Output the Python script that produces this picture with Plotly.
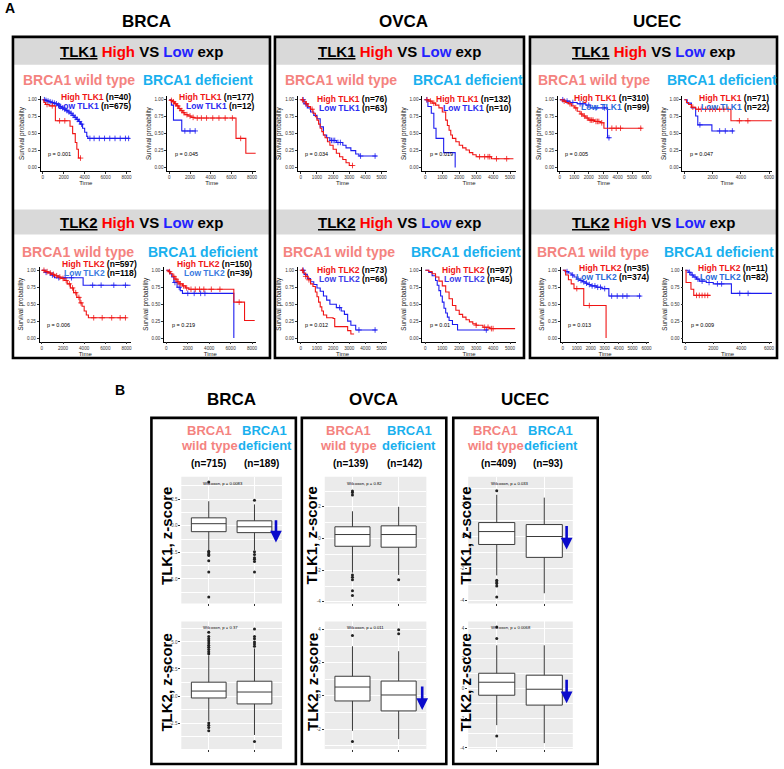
import numpy as np
import plotly.graph_objects as go

W, H = 784, 769
FONT = "Liberation Sans"
RED = "#f01414"
BLUE = "#1c1cf0"
SALMON = "#f4837f"
SKY = "#19b0ee"

# ---------- panel A: Kaplan-Meier curves (time, survival after step, censor times) ----------
BRCA_T1_WT_HI_T = [0, 100, 250, 600, 1200, 2600, 2850, 3100, 3250, 3400, 3650]
BRCA_T1_WT_HI_S = [1.0, 0.96, 0.93, 0.91, 0.69, 0.61, 0.50, 0.37, 0.27, 0.14, 0.14]
BRCA_T1_WT_HI_C = [400, 900, 1600, 2100, 3600]
BRCA_T1_WT_LO_T = [0, 200, 400, 600, 800, 1000, 1200, 1400, 1600, 1800, 2000, 2200, 2400, 2600,
                   2800, 3000, 3200, 3400, 3600, 3800, 4000, 4200, 4300, 8300]
BRCA_T1_WT_LO_S = [1.0, 0.99, 0.98, 0.97, 0.96, 0.95, 0.94, 0.92, 0.90, 0.88, 0.86, 0.84, 0.82, 0.80,
                   0.77, 0.74, 0.71, 0.68, 0.64, 0.58, 0.52, 0.46, 0.43, 0.43]
BRCA_T1_WT_LO_C = [150, 300, 500, 700, 900, 1100, 1300, 1500, 1700, 1900, 2100, 2300, 2500, 2700,
                   2900, 3100, 3300, 3500, 3700, 4500, 4900, 5400, 5900, 6400, 6900, 7400, 7900, 8200]

BRCA_T1_DEF_HI_T = [0, 100, 300, 500, 700, 900, 1100, 1300, 1500, 1800, 2100, 2400, 6450, 7400, 8350]
BRCA_T1_DEF_HI_S = [1.0, 0.99, 0.97, 0.94, 0.91, 0.87, 0.84, 0.81, 0.78, 0.76, 0.74, 0.73, 0.43, 0.21, 0.21]
BRCA_T1_DEF_HI_C = [200, 400, 600, 800, 1000, 1200, 1400, 1700, 2000, 2300, 2700, 3100, 3600, 4200, 4800, 5400, 6100, 6900]
BRCA_T1_DEF_LO_T = [0, 200, 400, 1200, 2550]
BRCA_T1_DEF_LO_S = [1.0, 0.92, 0.70, 0.54, 0.54]
BRCA_T1_DEF_LO_C = [1500, 2000, 2500]

BRCA_T2_WT_HI_T = [0, 300, 600, 900, 1200, 1500, 1800, 2100, 2400, 2700, 3000, 3300, 3600, 3800, 4000, 4200, 4400, 8000]
BRCA_T2_WT_HI_S = [1.0, 0.98, 0.96, 0.94, 0.92, 0.90, 0.88, 0.85, 0.80, 0.74, 0.67, 0.60, 0.52, 0.47, 0.40, 0.34, 0.30, 0.30]
BRCA_T2_WT_HI_C = [200, 500, 800, 1100, 1400, 1700, 2000, 2300, 2600, 2900, 3200, 3500, 3700, 4900, 5700, 6600, 7400, 7900]
BRCA_T2_WT_LO_T = [0, 300, 800, 1200, 3900, 8400]
BRCA_T2_WT_LO_S = [1.0, 0.97, 0.93, 0.89, 0.78, 0.78]
BRCA_T2_WT_LO_C = [400, 1000, 1600, 2200, 2800, 4800, 5600, 6800, 7900]

BRCA_T2_DEF_HI_T = [0, 200, 400, 600, 800, 1000, 1200, 1500, 1800, 2100, 6300, 7300, 8250]
BRCA_T2_DEF_HI_S = [1.0, 0.98, 0.95, 0.91, 0.87, 0.83, 0.80, 0.77, 0.74, 0.72, 0.53, 0.26, 0.26]
BRCA_T2_DEF_HI_C = [300, 700, 900, 1100, 1300, 1600, 1900, 2300, 2700, 3100, 3500, 4200, 5000, 6800]
BRCA_T2_DEF_LO_T = [0, 300, 500, 700, 1000, 1300, 1500, 6300]
BRCA_T2_DEF_LO_S = [1.0, 0.95, 0.90, 0.82, 0.75, 0.70, 0.66, 0.0]
BRCA_T2_DEF_LO_C = [800, 1200, 2000, 2600, 3200, 3600]

OVCA_T1_WT_HI_T = [0, 150, 300, 450, 600, 750, 900, 1000, 1100, 1200, 1300, 1400, 1500, 1650, 1800,
                   2000, 2200, 2400, 2600, 2800, 3000, 3250]
OVCA_T1_WT_HI_S = [1.0, 0.97, 0.94, 0.90, 0.86, 0.80, 0.75, 0.70, 0.64, 0.58, 0.53, 0.48, 0.44, 0.38, 0.33,
                   0.27, 0.21, 0.16, 0.12, 0.07, 0.03, 0.03]
OVCA_T1_WT_HI_C = [100, 350, 700, 3200]
OVCA_T1_WT_LO_T = [0, 200, 400, 600, 800, 1000, 1200, 1400, 1600, 1800, 2200, 2600, 2800, 3100, 3400, 3600, 4700]
OVCA_T1_WT_LO_S = [1.0, 0.94, 0.88, 0.82, 0.77, 0.72, 0.60, 0.48, 0.44, 0.40, 0.37, 0.33, 0.29, 0.25, 0.20, 0.17, 0.17]
OVCA_T1_WT_LO_C = [150, 300, 1900, 2000, 2100, 2300, 2450, 3700, 4600]

OVCA_T1_DEF_HI_T = [0, 200, 400, 600, 800, 1000, 1200, 1300, 1400, 1500, 1600, 1800, 2000, 2200, 2400,
                    2600, 2800, 3000, 3900, 5200]
OVCA_T1_DEF_HI_S = [1.0, 0.98, 0.95, 0.92, 0.88, 0.82, 0.70, 0.62, 0.55, 0.48, 0.43, 0.38, 0.33, 0.29, 0.26,
                    0.22, 0.19, 0.16, 0.13, 0.13]
OVCA_T1_DEF_HI_C = [100, 300, 500, 3200, 3500, 3700, 3800, 4200, 4800]
OVCA_T1_DEF_LO_T = [0, 150, 350, 500, 630, 1080, 1760]
OVCA_T1_DEF_LO_S = [1.0, 0.90, 0.80, 0.58, 0.43, 0.22, 0.0]
OVCA_T1_DEF_LO_C = [80]

OVCA_T2_WT_HI_T = [0, 150, 300, 450, 600, 750, 900, 1000, 1100, 1200, 1300, 1400, 1600, 2000, 2100, 2900, 3100, 3300]
OVCA_T2_WT_HI_S = [1.0, 0.96, 0.91, 0.86, 0.80, 0.76, 0.68, 0.61, 0.53, 0.46, 0.40, 0.34, 0.30, 0.29, 0.17, 0.11, 0.06, 0.06]
OVCA_T2_WT_HI_C = [100, 300, 500]
OVCA_T2_WT_LO_T = [0, 200, 400, 600, 800, 1000, 1200, 1400, 1600, 1800, 2200, 2500, 2700, 2900, 3100, 3400, 4700]
OVCA_T2_WT_LO_S = [1.0, 0.94, 0.88, 0.83, 0.79, 0.74, 0.69, 0.62, 0.56, 0.50, 0.45, 0.40, 0.35, 0.25, 0.19, 0.12, 0.12]
OVCA_T2_WT_LO_C = [150, 2400, 3600, 4600]

OVCA_T2_DEF_HI_T = [0, 200, 400, 600, 800, 1000, 1200, 1400, 1600, 1800, 2000, 2200, 2400, 2600, 2800, 3000, 3400, 3800, 5300]
OVCA_T2_DEF_HI_S = [1.0, 0.98, 0.95, 0.90, 0.84, 0.77, 0.68, 0.58, 0.48, 0.41, 0.35, 0.31, 0.27, 0.24, 0.21, 0.19, 0.16, 0.14, 0.14]
OVCA_T2_DEF_HI_C = [3000, 3500, 3700, 3900, 4000]
OVCA_T2_DEF_LO_T = [0, 200, 400, 600, 700, 800, 900, 1000, 1100, 1200, 1300, 1400, 1600, 1900, 3700]
OVCA_T2_DEF_LO_S = [1.0, 0.97, 0.92, 0.85, 0.78, 0.70, 0.62, 0.53, 0.44, 0.37, 0.31, 0.26, 0.20, 0.12, 0.12]
OVCA_T2_DEF_LO_C = [3600]

UCEC_T1_WT_HI_T = [0, 200, 400, 600, 800, 1000, 1200, 1400, 1600, 1800, 2000, 2400, 2800, 3050, 5700]
UCEC_T1_WT_HI_S = [1.0, 0.98, 0.96, 0.94, 0.91, 0.88, 0.83, 0.79, 0.76, 0.73, 0.70, 0.68, 0.66, 0.58, 0.58]
UCEC_T1_WT_HI_C = [300, 700, 1100, 1500, 1700, 1900, 2100, 2200, 2300, 2500, 2600, 2700, 2900, 3600, 3900, 4200, 5600]
UCEC_T1_WT_LO_T = [0, 300, 700, 1200, 1800, 2100, 3300, 3500]
UCEC_T1_WT_LO_S = [1.0, 0.98, 0.96, 0.94, 0.92, 0.88, 0.44, 0.44]
UCEC_T1_WT_LO_C = [200, 500, 900, 1400, 1600, 2000, 2500, 3100, 3400]

UCEC_T1_DEF_HI_T = [0, 150, 300, 500, 800, 3300, 6200]
UCEC_T1_DEF_HI_S = [1.0, 0.96, 0.93, 0.89, 0.86, 0.69, 0.69]
UCEC_T1_DEF_HI_C = [600, 1000, 1200, 1500, 1800, 2000, 2200, 2500, 2800, 3100, 3900, 4500]
UCEC_T1_DEF_LO_T = [0, 200, 500, 800, 950, 1950, 3500]
UCEC_T1_DEF_LO_S = [1.0, 0.95, 0.88, 0.76, 0.63, 0.54, 0.54]
UCEC_T1_DEF_LO_C = [1100, 2500, 2900, 3400]

UCEC_T2_WT_HI_T = [0, 200, 400, 600, 800, 1500, 3100]
UCEC_T2_WT_HI_S = [1.0, 0.93, 0.86, 0.80, 0.73, 0.48, 0.0]
UCEC_T2_WT_HI_C = [1000, 1900]
UCEC_T2_WT_LO_T = [0, 200, 400, 600, 800, 1000, 1200, 1400, 1600, 1800, 2000, 2400, 2800, 3300, 5600]
UCEC_T2_WT_LO_S = [1.0, 0.98, 0.96, 0.93, 0.90, 0.87, 0.85, 0.83, 0.81, 0.79, 0.77, 0.75, 0.73, 0.62, 0.62]
UCEC_T2_WT_LO_C = [300, 700, 1100, 1300, 1500, 1700, 1900, 2100, 2300, 2500, 2700, 3000, 3500, 3900, 4300, 4600, 5500]

UCEC_T2_DEF_HI_T = [0, 50, 400, 600, 1800]
UCEC_T2_DEF_HI_S = [1.0, 0.82, 0.72, 0.63, 0.63]
UCEC_T2_DEF_HI_C = [800, 1000, 1200, 1400, 1600]
UCEC_T2_DEF_LO_T = [0, 200, 400, 600, 800, 1000, 1500, 2000, 3300, 6300]
UCEC_T2_DEF_LO_S = [1.0, 0.97, 0.93, 0.90, 0.87, 0.84, 0.82, 0.80, 0.66, 0.66]
UCEC_T2_DEF_LO_C = [300, 500, 700, 900, 1200, 1700, 2300, 2600, 3900, 4500]

KM_N_HIGH = [40, 177, 597, 150, 76, 132, 73, 97, 310, 71, 35, 11]
KM_N_LOW = [675, 12, 118, 39, 63, 10, 66, 45, 99, 22, 374, 82]
KM_P = ["0.001", "0.045", "0.006", "0.219", "0.034", "0.019", "0.012", "0.01", "0.005", "0.047", "0.013", "0.009"]
KM_GENE = ["TLK1", "TLK1", "TLK2", "TLK2"] * 3

# ---------- panel B: box statistics (q1, median, q3, lower whisker, upper whisker) ----------
BOX_TITLES = ["TLK1, z-score", "TLK2, z-score"] * 3
BOX_P = ["0.0083", "0.37", "0.82", "0.011", "0.033", "0.0068"]
BOX_WT_STATS = [[-0.56, 0.19, 0.74, -2.3, 2.3], [-0.18, 0.46, 1.28, -2.3, 3.75],
                [-0.49, 0.25, 0.74, -2.15, 1.72], [-0.30, 0.54, 1.19, -2.1, 3.0],
                [-0.50, 0.31, 0.875, -2.44, 2.62], [-0.47, 0.40, 1.0, -2.47, 2.87]]
BOX_DEF_STATS = [[-0.65, -0.10, 0.46, -2.3, 2.0], [-0.73, 0.37, 1.37, -3.6, 4.4],
                 [-0.55, 0.25, 0.80, -2.3, 2.0], [-0.90, 0.06, 0.90, -2.6, 2.7],
                 [-1.31, 0.0, 0.75, -3.56, 2.44], [-1.13, -0.07, 0.87, -3.67, 2.87]]
BOX_WT_OUT = [[4.1, -2.4, -2.55, -2.7, -2.8, -3.3, -4.35, -6.7],
              [3.9, 4.1, 4.3, 4.5, 4.7, 4.9, 5.1, 5.3, 5.5, 5.9, -2.5, -2.7, -2.9, -3.2],
              [2.75, 2.9, 3.0, -2.3, -2.45, -2.6, -3.3, -3.6],
              [3.65, -2.75],
              [2.87, -2.75, -2.85, -2.95, -3.1, -3.8],
              [3.33, 4.1, -3.2]]
BOX_DEF_OUT = [[2.4, -2.45, -2.7, -3.0, -3.15, -3.35, -4.35],
               [4.6, 4.8, 5.0, 5.3, 5.5, 6.2, -4.2],
               [-2.6],
               [3.75, 4.0],
               [],
               []]
BOX_N_WT = [715, 139, 409]
BOX_N_DEF = [189, 142, 93]
CANCERS = ["BRCA", "OVCA", "UCEC"]


def pxx(p):
    return p / W


def pxy(p):
    return 1 - p / H


def axn(k):
    s = "" if k == 1 else str(k)
    return "x" + s, "y" + s, "xaxis" + s, "yaxis" + s


def step_at(t, s, c):
    idx = np.searchsorted(np.array(t), np.array(c), side="right") - 1
    return list(np.array(s)[idx])


km_curves = [
    (BRCA_T1_WT_HI_T, BRCA_T1_WT_HI_S, BRCA_T1_WT_HI_C, BRCA_T1_WT_LO_T, BRCA_T1_WT_LO_S, BRCA_T1_WT_LO_C),
    (BRCA_T1_DEF_HI_T, BRCA_T1_DEF_HI_S, BRCA_T1_DEF_HI_C, BRCA_T1_DEF_LO_T, BRCA_T1_DEF_LO_S, BRCA_T1_DEF_LO_C),
    (BRCA_T2_WT_HI_T, BRCA_T2_WT_HI_S, BRCA_T2_WT_HI_C, BRCA_T2_WT_LO_T, BRCA_T2_WT_LO_S, BRCA_T2_WT_LO_C),
    (BRCA_T2_DEF_HI_T, BRCA_T2_DEF_HI_S, BRCA_T2_DEF_HI_C, BRCA_T2_DEF_LO_T, BRCA_T2_DEF_LO_S, BRCA_T2_DEF_LO_C),
    (OVCA_T1_WT_HI_T, OVCA_T1_WT_HI_S, OVCA_T1_WT_HI_C, OVCA_T1_WT_LO_T, OVCA_T1_WT_LO_S, OVCA_T1_WT_LO_C),
    (OVCA_T1_DEF_HI_T, OVCA_T1_DEF_HI_S, OVCA_T1_DEF_HI_C, OVCA_T1_DEF_LO_T, OVCA_T1_DEF_LO_S, OVCA_T1_DEF_LO_C),
    (OVCA_T2_WT_HI_T, OVCA_T2_WT_HI_S, OVCA_T2_WT_HI_C, OVCA_T2_WT_LO_T, OVCA_T2_WT_LO_S, OVCA_T2_WT_LO_C),
    (OVCA_T2_DEF_HI_T, OVCA_T2_DEF_HI_S, OVCA_T2_DEF_HI_C, OVCA_T2_DEF_LO_T, OVCA_T2_DEF_LO_S, OVCA_T2_DEF_LO_C),
    (UCEC_T1_WT_HI_T, UCEC_T1_WT_HI_S, UCEC_T1_WT_HI_C, UCEC_T1_WT_LO_T, UCEC_T1_WT_LO_S, UCEC_T1_WT_LO_C),
    (UCEC_T1_DEF_HI_T, UCEC_T1_DEF_HI_S, UCEC_T1_DEF_HI_C, UCEC_T1_DEF_LO_T, UCEC_T1_DEF_LO_S, UCEC_T1_DEF_LO_C),
    (UCEC_T2_WT_HI_T, UCEC_T2_WT_HI_S, UCEC_T2_WT_HI_C, UCEC_T2_WT_LO_T, UCEC_T2_WT_LO_S, UCEC_T2_WT_LO_C),
    (UCEC_T2_DEF_HI_T, UCEC_T2_DEF_HI_S, UCEC_T2_DEF_HI_C, UCEC_T2_DEF_LO_T, UCEC_T2_DEF_LO_S, UCEC_T2_DEF_LO_C),
]

# layout of each KM plot: pixel of tick 0, pixel of last tick, last tick, axis range, tick step, row, legend anchor
km_layout = [
    (43, 127, 8000, [-200, 8400], 2000, 1, 134, 97),
    (170, 253, 8000, [-200, 8400], 2000, 1, 257, 97),
    (42, 127, 8000, [-200, 8400], 2000, 2, 140, 265),
    (167, 253, 8000, [-200, 8400], 2000, 2, 255, 265),
    (302, 383, 5000, [-180, 5350], 1000, 1, 390, 99),
    (427, 512, 5000, [-180, 5350], 1000, 1, 515, 99),
    (302, 383, 5000, [-180, 5350], 1000, 2, 390, 271),
    (427, 512, 5000, [-180, 5350], 1000, 2, 516, 271),
    (562, 649, 6000, [-140, 6200], 1000, 1, 653, 98),
    (687, 772, 6000, [-140, 6200], 2000, 1, 774, 98),
    (565, 649, 6000, [-140, 6200], 1000, 2, 653, 269),
    (688, 772, 6000, [-140, 6200], 2000, 2, 773, 269),
]
low_label_col = ["#2a2af0", "#2a2af0", "#3a7ae0", "#3a7ae0", "#2a2af0", "#2a2af0",
                 "#3b3be8", "#3b3be8", "#2a6ad8", "#2a6ad8", "#2a6ad8", "#2a6ad8"]
ROW_Y = {1: (100, 168), 2: (271, 339)}

# box panels: pixel domain x, row, y range, tick values, minor step
box_layout = [
    (182, 283, 1, [-7.3, 4.6], [-5, -2.5, 0, 2.5], ["-5.0", "-2.5", "0.0", "2.5"], 1.25),
    (182, 283, 2, [-4.9, 6.9], [-2.5, 0, 2.5, 5], ["-2.5", "0.0", "2.5", "5.0"], 1.25),
    (326, 428, 1, [-4.1, 3.9], [-4, -2, 0, 2], ["-4", "-2", "0", "2"], 1),
    (326, 428, 2, [-3.2, 4.5], [-2, 0, 2, 4], ["-2", "0", "2", "4"], 1),
    (470, 575, 1, [-4.2, 3.75], [-4, -2, 0, 2], ["-4", "-2", "0", "2"], 1),
    (470, 575, 2, [-4.07, 4.47], [-4, -2, 0, 2, 4], ["-4", "-2", "0", "2", "4"], 1),
]
BOX_ROW_Y = {1: (478, 605), 2: (623, 751)}
# arrow: x, tail y, head y
arrows = {0: (2.47, 0.65, -1.57), 3: (2.51, 0.66, -0.84), 4: (2.47, 0.75, -0.81), 5: (2.47, 0.67, -1.0)}

fig = go.Figure()
lay = {}
shapes = []
anns = []


def ann(text, x, y, size, color="black", xanchor="center", yanchor="middle", **kw):
    anns.append(dict(text=text, x=pxx(x), y=pxy(y), xref="paper", yref="paper", showarrow=False,
                     font=dict(size=size, color=color, family=FONT), xanchor=xanchor, yanchor=yanchor, **kw))


tick_common = dict(ticks="outside", ticklen=2, tickwidth=0.6, tickcolor="#333", zeroline=False)

for i, (curves, spec) in enumerate(zip(km_curves, km_layout)):
    xa, ya, xk, yk = axn(i + 1)
    hi_t, hi_s, hi_c, lo_t, lo_s, lo_c = curves
    p0, pm, vm, xr, step, row, lx, ly = spec
    y1p, y0p = ROW_Y[row]
    scale = (pm - p0) / vm
    xd = [pxx(p0 + xr[0] * scale), pxx(p0 + xr[1] * scale)]
    yr = [-0.05, 1.05]
    yd = [pxy(y0p + yr[0] * (y1p - y0p)), pxy(y0p + yr[1] * (y1p - y0p))]
    for t, s, c, col in [(lo_t, lo_s, lo_c, BLUE), (hi_t, hi_s, hi_c, RED)]:
        fig.add_trace(go.Scatter(x=t, y=s, mode="lines", line=dict(shape="hv", color=col, width=1.1),
                                 xaxis=xa, yaxis=ya, hoverinfo="skip"))
        fig.add_trace(go.Scatter(x=c, y=step_at(t, s, c), mode="markers", xaxis=xa, yaxis=ya,
                                 marker=dict(symbol="cross-thin", size=4, line=dict(width=0.8, color=col)),
                                 hoverinfo="skip"))
    ticks = list(range(0, vm + 1, step))
    lay[xk] = dict(domain=xd, range=xr, anchor=ya, tickvals=ticks, ticktext=[str(v) for v in ticks],
                   tickfont=dict(size=4.6, color="#333", family=FONT), showline=True, linecolor="black",
                   linewidth=0.8, showgrid=False,
                   title=dict(text="Time", font=dict(size=6, family=FONT, color="#222"), standoff=1),
                   **tick_common)
    lay[yk] = dict(domain=yd, range=yr, anchor=xa, tickvals=[0, 0.25, 0.5, 0.75, 1],
                   ticktext=["0.00", "0.25", "0.50", "0.75", "1.00"],
                   tickfont=dict(size=4.6, color="#333", family=FONT), showline=True, linecolor="black",
                   linewidth=0.8, showgrid=False,
                   title=dict(text="Survival probability", font=dict(size=6.3, family=FONT, color="#222"),
                              standoff=2),
                   **tick_common)
    g = KM_GENE[i]
    ann(f"<b><span style='color:{RED}'>High {g}</span> (n={KM_N_HIGH[i]})</b>", lx, ly, 8.5, xanchor="right")
    ann(f"<b><span style='color:{low_label_col[i]}'>Low {g}</span> (n={KM_N_LOW[i]})</b>", lx, ly + 9, 8.5,
        xanchor="right")
    anns.append(dict(text=f"p = {KM_P[i]}", x=0.06, y=0.2, xref=f"{xa} domain", yref=ya, showarrow=False,
                     xanchor="left", font=dict(size=5.5, color="black", family=FONT)))

for j, spec in enumerate(box_layout):
    xa, ya, xk, yk = axn(13 + j)
    x0, x1, row, yr, tv, tt, minor = spec
    yt, yb = BOX_ROW_Y[row]
    for pos, st, out in [(1, BOX_WT_STATS[j], BOX_WT_OUT[j]), (2, BOX_DEF_STATS[j], BOX_DEF_OUT[j])]:
        fig.add_trace(go.Box(x=[pos], q1=[st[0]], median=[st[1]], q3=[st[2]], lowerfence=[st[3]],
                             upperfence=[st[4]], width=0.76, whiskerwidth=0, fillcolor="white",
                             line=dict(color="#3a3a3a", width=1), boxpoints=False, xaxis=xa, yaxis=ya,
                             hoverinfo="skip"))
        if out:
            fig.add_trace(go.Scatter(x=[pos] * len(out), y=out, mode="markers", xaxis=xa, yaxis=ya,
                                     marker=dict(color="#222", size=3), hoverinfo="skip"))
    lay[xk] = dict(domain=[pxx(x0), pxx(x1)], range=[0.4, 2.6], anchor=ya, tickvals=[1, 2],
                   ticktext=["", ""], showgrid=True, gridcolor="white", gridwidth=1, showline=False,
                   **tick_common)
    lay[yk] = dict(domain=[pxy(yb), pxy(yt)], range=yr, anchor=xa, tickvals=tv, ticktext=tt,
                   tickfont=dict(size=4.5, color="#4d4d4d", family=FONT), showgrid=True,
                   gridcolor="white", gridwidth=0.9, showline=False,
                   minor=dict(dtick=minor, tick0=0, showgrid=True, gridcolor="white", gridwidth=0.5, ticks=""),
                   **tick_common)
    shapes.append(dict(type="rect", xref=f"{xa} domain", yref=f"{ya} domain", x0=0, x1=1, y0=0, y1=1,
                       fillcolor="#ebebeb", line=dict(width=0), layer="below"))
    anns.append(dict(text=f"Wilcoxon, p = {BOX_P[j]}", x=0.2, y=0.985, xref=f"{xa} domain",
                     yref=f"{ya} domain", showarrow=False, xanchor="left", yanchor="top",
                     font=dict(size=4.2, color="black", family=FONT)))
    if j in arrows:
        arx, ytail, yhead = arrows[j]
        anns.append(dict(text="", x=arx, y=yhead, ax=arx, ay=ytail, xref=xa, yref=ya,
                         axref=xa, ayref=ya, showarrow=True, arrowhead=2, arrowsize=0.9, arrowwidth=2.6,
                         arrowcolor="#0a0acc"))

# --- panel A frames and labels
a_boxes = [(13, 271), (276, 526), (532, 780)]
a_titles_x = [147, 405, 660]
wt_x = [[79, 78], [342, 340], [596, 595]]
def_x = [[199, 204], [470, 468], [725, 722]]
for c, (bx0, bx1) in enumerate(a_boxes):
    for hy0, hy1 in [(38, 65), (210, 235)]:
        shapes.append(dict(type="rect", xref="paper", yref="paper", x0=pxx(bx0), x1=pxx(bx1), y0=pxy(hy1),
                           y1=pxy(hy0), fillcolor="#d9d9d9", line=dict(width=0), layer="below"))
    shapes.append(dict(type="rect", xref="paper", yref="paper", x0=pxx(bx0), x1=pxx(bx1), y0=pxy(359),
                       y1=pxy(37), line=dict(color="black", width=2.6)))
    ann(f"<b>{CANCERS[c]}</b>", a_titles_x[c], 22, 17)
    cx = (bx0 + bx1) / 2
    for r, (gene, hy) in enumerate([("TLK1", 52), ("TLK2", 223)]):
        ann(f"<b><span style='text-decoration:underline'>{gene}</span> <span style='color:#ff0000'>High</span>"
            f" VS <span style='color:#2222ff'>Low</span> exp</b>", cx, hy, 15)
        sy = 80 if r == 0 else 253
        ann("<b>BRCA1 wild type</b>", wt_x[c][r], sy, 14, color=SALMON)
        ann("<b>BRCA1 deficient</b>", def_x[c][r], sy, 14, color=SKY)
ann("<b>A</b>", 3, 8, 14, xanchor="left")

# --- panel B frames and labels
b_boxes = [(152, 297), (303, 448), (455, 600)]
b_title_x = [232, 375, 527]
b_wt_x = [210, 350, 497]
b_def_x = [266, 411, 553]
b_nwt_x = [209, 352, 500]
b_ndef_x = [263, 406, 550]
b_ytitle_x = [167, 313, 467]
for c, (bx0, bx1) in enumerate(b_boxes):
    shapes.append(dict(type="rect", xref="paper", yref="paper", x0=pxx(bx0), x1=pxx(bx1), y0=pxy(766),
                       y1=pxy(419), line=dict(color="black", width=2.6)))
    ann(f"<b>{CANCERS[c]}</b>", b_title_x[c], 401, 17)
    ann("<b>BRCA1</b>", b_wt_x[c], 432, 13, color=SALMON)
    ann("<b>wild type</b>", b_wt_x[c], 447, 13, color=SALMON)
    ann("<b>BRCA1</b>", b_def_x[c], 432, 13, color=SKY)
    ann("<b>deficient</b>", b_def_x[c], 447, 13, color=SKY)
    ann(f"<b>(n={BOX_N_WT[c]})</b>", b_nwt_x[c], 465, 10)
    ann(f"<b>(n={BOX_N_DEF[c]})</b>", b_ndef_x[c], 465, 10)
    ann(f"<b>{BOX_TITLES[2 * c]}</b>", b_ytitle_x[c], 537, 15, textangle=-90)
    ann(f"<b>{BOX_TITLES[2 * c + 1]}</b>", b_ytitle_x[c], 684, 15, textangle=-90)
ann("<b>B</b>", 120, 391, 14)

fig.update_layout(width=W, height=H, margin=dict(l=0, r=0, t=0, b=0), paper_bgcolor="white",
                  plot_bgcolor="rgba(0,0,0,0)", showlegend=False, shapes=shapes, annotations=anns,
                  font=dict(family=FONT), **lay)
# the page body has a default 8px margin; drop it so the figure sits at the window's corner
fig.write_html("out.html", config={"displayModeBar": False},
               post_script="document.body.style.margin='0px';")
